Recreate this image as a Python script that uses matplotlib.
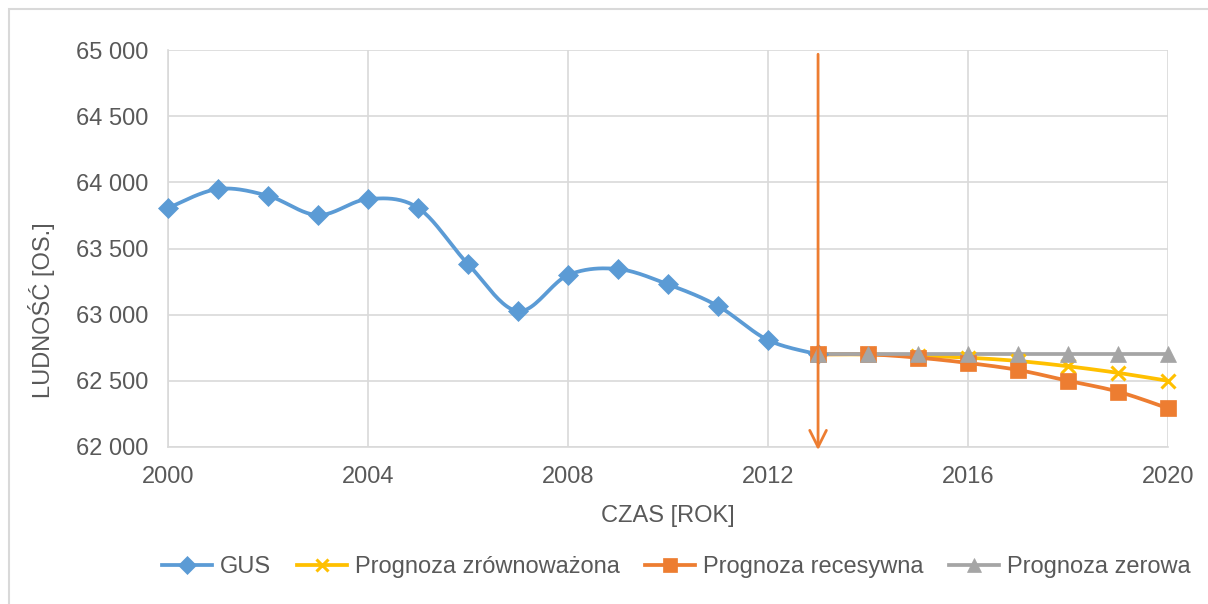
import numpy as np
import matplotlib
matplotlib.use('Agg')
import matplotlib.pyplot as plt
from matplotlib.ticker import FuncFormatter, MultipleLocator
from matplotlib.patches import Rectangle

plt.rcParams['font.family'] = ['Liberation Sans', 'DejaVu Sans']

# data
years_gus = list(range(2000, 2014))
gus = [63806, 63950, 63899, 63753, 63874, 63808, 63383,
       63027, 63299, 63345, 63229, 63065, 62808, 62700]

years_fc = list(range(2013, 2021))
zrownowazona = [62700, 62700, 62690, 62675, 62650, 62610, 62560, 62500]
recesywna = [62700, 62700, 62675, 62635, 62582, 62500, 62418, 62292]
zerowa = [62700, 62700, 62700, 62700, 62700, 62700, 62700, 62700]

labels = ['GUS', 'Prognoza zrównoważona', 'Prognoza recesywna', 'Prognoza zerowa']
colors = ['#5B9BD5', '#FFC000', '#ED7D31', '#A5A5A5']
text_col = '#595959'
fs = 17


def smooth(x, y, n=24):
    # bezier smoothing through the points, like a spreadsheet "smoothed line"
    x = np.asarray(x, float)
    y = np.asarray(y, float)
    px = np.concatenate([[x[0]], x, [x[-1]]])
    py = np.concatenate([[y[0]], y, [y[-1]]])
    xs, ys = [], []
    t = np.linspace(0, 1, n)
    for i in range(1, len(px) - 2):
        p0 = np.array([px[i], py[i]])
        p3 = np.array([px[i + 1], py[i + 1]])
        p1 = p0 + (p3 - np.array([px[i - 1], py[i - 1]])) / 6
        p2 = p3 - (np.array([px[i + 2], py[i + 2]]) - p0) / 6
        pts = (((1 - t) ** 3)[:, None] * p0 + (3 * (1 - t) ** 2 * t)[:, None] * p1
               + (3 * (1 - t) * t ** 2)[:, None] * p2 + (t ** 3)[:, None] * p3)
        xs.extend(pts[:, 0])
        ys.extend(pts[:, 1])
    return xs, ys


fig = plt.figure(figsize=(12.08, 6.04), dpi=100)
ax = fig.add_axes([0.139, 0.26, 0.828, 0.657])

# outer chart frame
fig.patches.append(Rectangle((9 / 1208, -0.1), 1.2, 1.1 - 9 / 604,
                             transform=fig.transFigure, fill=False,
                             edgecolor='#d9d9d9', linewidth=1.5))

series = [(years_gus, gus, 'D', 10.5), (years_fc, zrownowazona, 'x', 10.5),
          (years_fc, recesywna, 's', 12), (years_fc, zerowa, '^', 12)]
handles = []
for (xv, yv, mk, ms), lab, col in zip(series, labels, colors):
    mew = 2.2 if mk == 'x' else 0.5
    sx, sy = smooth(xv, yv)
    ax.plot(sx, sy, color=col, linewidth=2.7, solid_capstyle='round',
            zorder=3, clip_on=False)
    ax.plot(xv, yv, linestyle='none', marker=mk, markersize=ms, color=col,
            markeredgewidth=mew, zorder=4, clip_on=False)
    h, = ax.plot([], [], color=col, linewidth=2.7, marker=mk,
                 markersize=ms * 0.85, markeredgewidth=mew)
    handles.append(h)

# arrow marking the start of the forecast
ax.annotate('', xy=(2013, 61955), xytext=(2013, 64990),
            arrowprops=dict(arrowstyle='->', color='#ED7D31', lw=2,
                            mutation_scale=30),
            annotation_clip=False, zorder=5)

ax.set_xlim(2000, 2020)
ax.set_ylim(62000, 65000)
ax.xaxis.set_major_locator(MultipleLocator(4))
ax.yaxis.set_major_locator(MultipleLocator(500))
ax.yaxis.set_major_formatter(FuncFormatter(lambda v, p: '{:,.0f}'.format(v).replace(',', ' ')))
ax.grid(True, color='#d9d9d9', linewidth=1.2)
ax.set_axisbelow(True)
for s in ['top', 'right']:
    ax.spines[s].set_visible(False)
for s in ['left', 'bottom']:
    ax.spines[s].set_color('#d9d9d9')
    ax.spines[s].set_linewidth(1.2)
ax.tick_params(length=0, labelsize=fs, labelcolor=text_col)
ax.tick_params(axis='y', pad=14)
ax.tick_params(axis='x', pad=14)
ax.set_xlabel('CZAS [ROK]', fontsize=fs, color=text_col, labelpad=12)
fig.text(42 / 1208, 1 - 310 / 604, 'LUDNOŚĆ [OS.]', rotation=90, ha='center',
         va='center', fontsize=fs, color=text_col)

fig.legend(handles, labels, loc='center', bbox_to_anchor=(0.56, 0.061), ncol=4,
           frameon=False, fontsize=fs, labelcolor=text_col, handlelength=2.1,
           handletextpad=0.34, columnspacing=1.1)

fig.savefig('out.png', dpi=100)
